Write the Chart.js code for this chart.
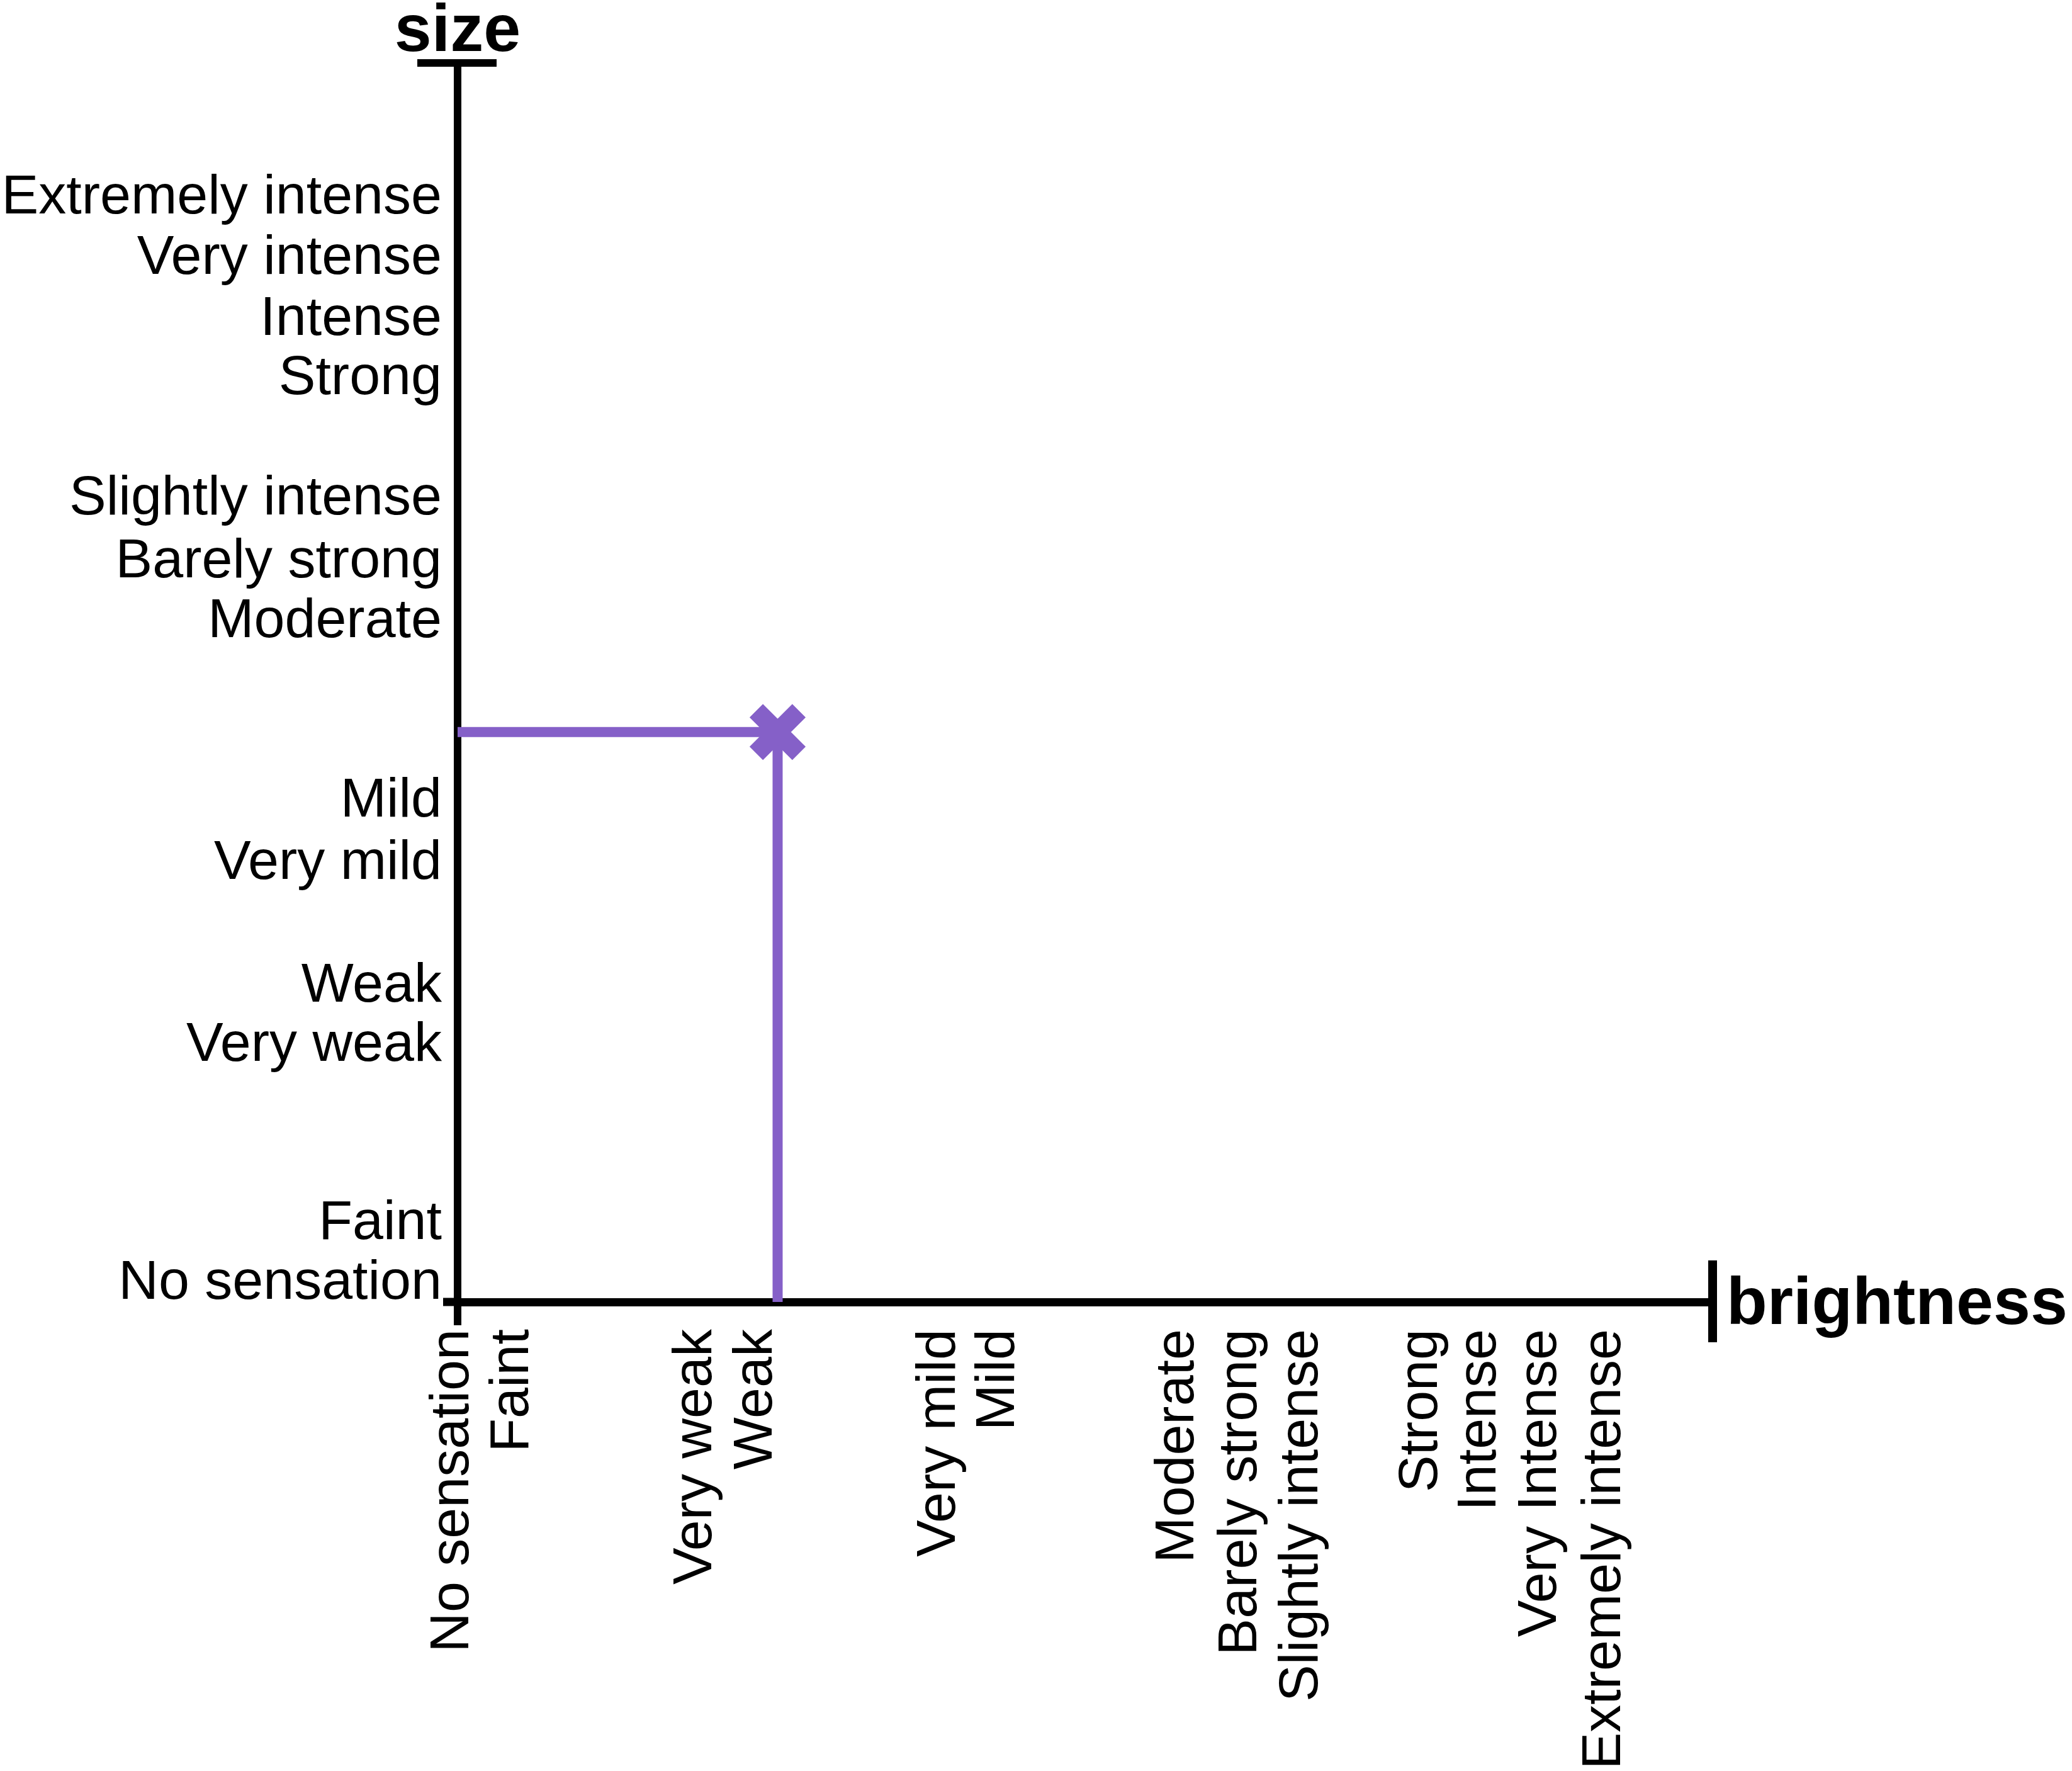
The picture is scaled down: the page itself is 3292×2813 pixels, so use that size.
<!DOCTYPE html>
<html>
<head>
<meta charset="utf-8">
<title>size vs brightness</title>
<script src="https://cdn.jsdelivr.net/npm/chart.js@4.4.1/dist/chart.umd.min.js"></script>
<style>
  html, body { margin: 0; padding: 0; background: #fff; }
  canvas { display: block; }
</style>
</head>
<body>
<canvas id="scaleChart" width="3292" height="2813"></canvas>
<script>
// labels along the size axis and where they sit (0 = origin, 100 = top of axis)
const sizeLabels = ['No sensation', 'Faint', 'Very weak', 'Weak', 'Very mild', 'Mild',
  'Moderate', 'Barely strong', 'Slightly intense', 'Strong', 'Intense', 'Very intense', 'Extremely intense'];
const sizeTicks = [1.8, 6.6, 21.0, 25.8, 35.7, 40.7, 55.2, 60.0, 65.1, 74.8, 79.6, 84.5, 89.4];

// labels along the brightness axis
const brightLabels = ['No sensation', 'Faint', 'Very weak', 'Weak', 'Very mild', 'Mild',
  'Moderate', 'Barely strong', 'Slightly intense', 'Strong', 'Intense', 'Very Intense', 'Extremely intense'];
const brightTicks = [-0.35, 4.4, 19.0, 23.8, 38.4, 43.1, 57.4, 62.4, 67.3, 76.8, 81.5, 86.3, 91.4];

// the rating: brightness / size of the marked point
const ratingX = [0, 25.5, 25.5];
const ratingY = [46.0, 46.0, 0];

const purple = '#8560C8';
const font = "'Liberation Sans', Arial, Helvetica, sans-serif";

// axis ends, origin crossing and the two axis names
const axisDecor = {
  id: 'axisDecor',
  afterDraw(chart) {
    const c = chart.ctx, a = chart.chartArea;
    c.save();
    c.strokeStyle = '#000';
    c.lineCap = 'butt';
    // top cap on size axis
    c.lineWidth = 12;
    c.beginPath(); c.moveTo(a.left - 64, a.top); c.lineTo(a.left + 62, a.top); c.stroke();
    // right cap on brightness axis
    c.lineWidth = 14;
    c.beginPath(); c.moveTo(a.right, a.bottom - 66); c.lineTo(a.right, a.bottom + 64); c.stroke();
    // axes run a little past the origin
    c.lineWidth = 13;
    c.beginPath(); c.moveTo(a.left - 23, a.bottom); c.lineTo(a.left, a.bottom); c.stroke();
    c.lineWidth = 12;
    c.beginPath(); c.moveTo(a.left, a.bottom); c.lineTo(a.left, a.bottom + 37); c.stroke();

    c.fillStyle = '#000';
    c.font = 'bold 106px ' + font;
    c.textBaseline = 'alphabetic';
    c.textAlign = 'center';
    c.fillText('size', a.left, 81);
    c.textAlign = 'left';
    c.fillText('brightness', a.right + 22, a.bottom + 35);
    c.restore();
  }
};

const ctx = document.getElementById('scaleChart').getContext('2d');
const scaleChart = new Chart(ctx, {
  type: 'scatter',
  data: {
    datasets: [{
      data: ratingX.map((x, i) => ({ x: x, y: ratingY[i] })),
      showLine: true,
      borderColor: purple,
      borderWidth: 16,
      borderCapStyle: 'butt',
      pointRadius: [0, 48, 0],
      pointHoverRadius: [0, 48, 0],
      pointStyle: 'crossRot',
      pointBorderColor: purple,
      pointBackgroundColor: purple,
      pointBorderWidth: 30,
      clip: false
    }]
  },
  options: {
    responsive: false,
    animation: false,
    devicePixelRatio: 1,
    layout: { padding: { top: 100, right: 571, left: 0, bottom: 0 } },
    plugins: { legend: { display: false }, tooltip: { enabled: false } },
    scales: {
      x: {
        type: 'linear',
        min: 0,
        max: 100,
        grid: { display: false, drawTicks: false },
        border: { display: true, color: '#000', width: 13 },
        afterBuildTicks: s => { s.ticks = brightTicks.map(v => ({ value: v })); },
        afterFit: s => { s.height = 745; },
        ticks: {
          autoSkip: false,
          minRotation: 90,
          maxRotation: 90,
          padding: 43,
          color: '#000',
          font: { family: font, size: 88 },
          callback: (v, i) => brightLabels[i]
        }
      },
      y: {
        type: 'linear',
        min: 0,
        max: 100,
        grid: { display: false, drawTicks: false },
        border: { display: true, color: '#000', width: 12 },
        afterBuildTicks: s => { s.ticks = sizeTicks.map(v => ({ value: v })); },
        afterFit: s => { s.width = 727; },
        ticks: {
          autoSkip: false,
          padding: 25,
          labelOffset: 6,
          color: '#000',
          font: { family: font, size: 88 },
          callback: (v, i) => sizeLabels[i]
        }
      }
    }
  },
  plugins: [axisDecor]
});
</script>
</body>
</html>
